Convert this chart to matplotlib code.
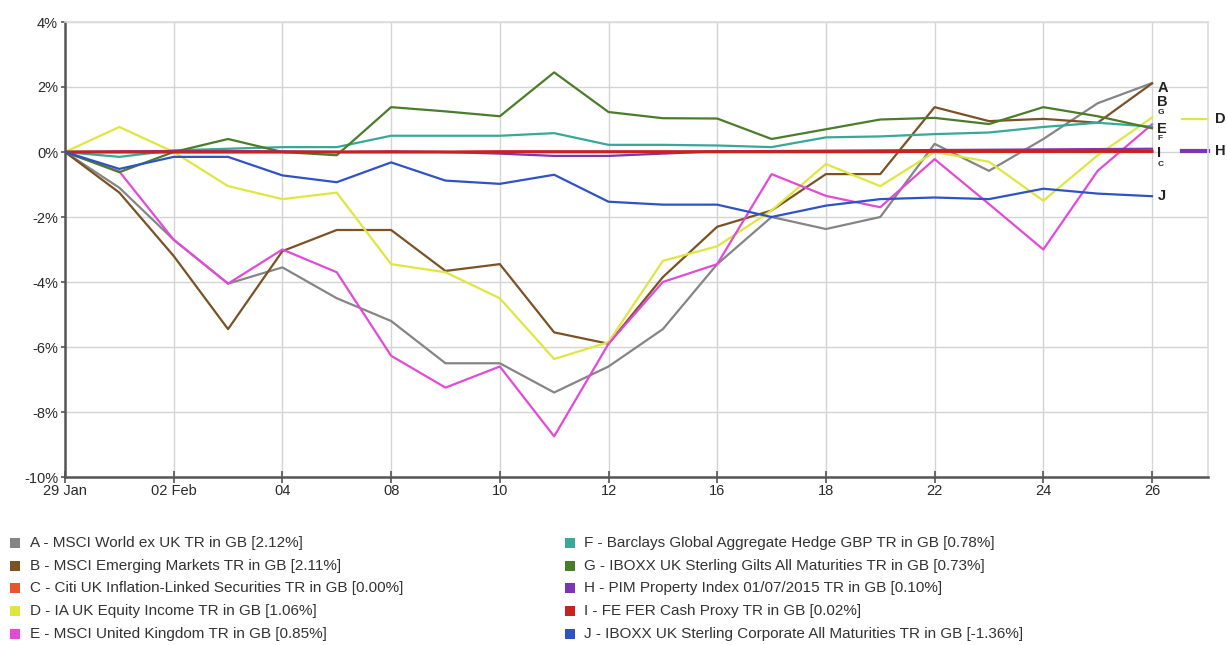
import matplotlib
matplotlib.use("Agg")
import matplotlib.pyplot as plt
from matplotlib.patches import Rectangle

plt.rcParams['font.family'] = ['Liberation Sans', 'DejaVu Sans']

# Trading days (index positions) and tick labels
dates = ["29 Jan", "01 Feb", "02 Feb", "03 Feb", "04 Feb", "05 Feb", "08 Feb", "09 Feb",
         "10 Feb", "11 Feb", "12 Feb", "15 Feb", "16 Feb", "17 Feb", "18 Feb", "19 Feb",
         "22 Feb", "23 Feb", "24 Feb", "25 Feb", "26 Feb"]
tick_labels = ["29 Jan", "02 Feb", "04", "08", "10", "12", "16", "18", "22", "24", "26"]
tick_idx = [0, 2, 4, 6, 8, 10, 12, 14, 16, 18, 20]

A = [0, -1.1, -2.7, -4.05, -3.55, -4.5, -5.2, -6.5, -6.5, -7.4, -6.6, -5.45, -3.45, -2.0, -2.37, -2.0, 0.25, -0.58, 0.4, 1.5, 2.12]
B = [0, -1.25, -3.2, -5.45, -3.05, -2.4, -2.4, -3.66, -3.45, -5.55, -5.9, -3.85, -2.3, -1.8, -0.68, -0.68, 1.38, 0.95, 1.02, 0.9, 2.11]
C = [0] * 21
D = [0, 0.77, 0.0, -1.05, -1.45, -1.25, -3.45, -3.7, -4.5, -6.37, -5.85, -3.35, -2.9, -1.8, -0.37, -1.05, 0.0, -0.3, -1.5, -0.1, 1.06]
E = [0, -0.6, -2.7, -4.05, -3.0, -3.7, -6.27, -7.25, -6.6, -8.75, -5.9, -4.0, -3.45, -0.68, -1.35, -1.7, -0.22, -1.6, -3.0, -0.58, 0.85]
F = [0, -0.15, 0.05, 0.1, 0.15, 0.15, 0.5, 0.5, 0.5, 0.58, 0.22, 0.22, 0.2, 0.15, 0.45, 0.48, 0.55, 0.6, 0.77, 0.9, 0.78]
G = [0, -0.62, 0.0, 0.4, 0.0, -0.1, 1.38, 1.25, 1.1, 2.45, 1.23, 1.04, 1.03, 0.4, 0.7, 1.0, 1.05, 0.86, 1.38, 1.1, 0.73]
H = [0, 0.02, 0.03, 0.03, 0.02, 0.0, 0.02, 0.0, -0.05, -0.12, -0.12, -0.05, 0.02, 0.03, 0.04, 0.05, 0.06, 0.07, 0.08, 0.09, 0.10]
I = [0, 0.0, 0.0, 0.0, 0.0, 0.0, 0.0, 0.0, 0.01, 0.01, 0.01, 0.01, 0.01, 0.01, 0.01, 0.01, 0.02, 0.02, 0.02, 0.02, 0.02]
J = [0, -0.52, -0.15, -0.15, -0.72, -0.93, -0.32, -0.88, -0.98, -0.7, -1.53, -1.62, -1.62, -2.0, -1.65, -1.45, -1.4, -1.45, -1.13, -1.28, -1.36]

series = [A, B, C, D, E, F, G, H, I, J]
letters = ["A", "B", "C", "D", "E", "F", "G", "H", "I", "J"]
names = [
    "A - MSCI World ex UK TR in GB [2.12%]",
    "B - MSCI Emerging Markets TR in GB [2.11%]",
    "C - Citi UK Inflation-Linked Securities TR in GB [0.00%]",
    "D - IA UK Equity Income TR in GB [1.06%]",
    "E - MSCI United Kingdom TR in GB [0.85%]",
    "F - Barclays Global Aggregate Hedge GBP TR in GB [0.78%]",
    "G - IBOXX UK Sterling Gilts All Maturities TR in GB [0.73%]",
    "H - PIM Property Index 01/07/2015 TR in GB [0.10%]",
    "I - FE FER Cash Proxy TR in GB [0.02%]",
    "J - IBOXX UK Sterling Corporate All Maturities TR in GB [-1.36%]",
]
colors = ["#858585", "#7a5224", "#e8542c", "#dfe640", "#e24ad8",
          "#38a898", "#4a7d2a", "#7b36b8", "#c8221e", "#2f52c4"]

W, Hh = 1227, 645
fig = plt.figure(figsize=(W / 100, Hh / 100), dpi=100)
ax = fig.add_axes([65 / W, 1 - 477 / Hh, (1208 - 65) / W, (477 - 22) / Hh])

x = list(range(len(dates)))
for s, c in zip(series, colors):
    lw = 2.2 if c == "#c8221e" else 1.6
    ax.plot(x, s, color=c, lw=lw)

ax.set_xlim(0, 21.03)
ax.set_ylim(-10, 4)
ax.set_yticks(range(-10, 5, 2))
ax.set_yticklabels([f"{v}%" for v in range(-10, 5, 2)])
ax.set_xticks(tick_idx)
ax.set_xticklabels(tick_labels)
ax.grid(True, color="#d4d4d4", lw=1)
ax.set_axisbelow(True)
for sp in ("top", "right"):
    ax.spines[sp].set_color("#dddddd")
    ax.spines[sp].set_linewidth(1.2)
for sp in ("left", "bottom"):
    ax.spines[sp].set_color("#555555")
    ax.spines[sp].set_linewidth(1.8)
ax.tick_params(axis="both", colors="#555555", labelcolor="#2a2a2a", labelsize=10.5,
               length=4, width=1.2)
ax.tick_params(axis="x", direction="inout", length=8, pad=1)
ax.tick_params(axis="y", direction="out", length=3, pad=2)

# End-of-line labels (letters), stacked as in the original
lab_letters = ["A", "B", "G", "E", "F", "I", "C", "J"]
lab_y = [1.98, 1.55, 1.22, 0.72, 0.42, -0.02, -0.38, -1.36]
lab_size = [10.5, 10.5, 6, 10.5, 6, 10.5, 6, 10.5]
for t, yv, fs in zip(lab_letters, lab_y, lab_size):
    ax.text(20.1, yv, t, fontsize=fs, fontweight="bold", color="#222222",
            va="center", ha="left", clip_on=False)

# Off-chart labels D and H with line stubs
for t, yv, c in [("D", 1.02, colors[3]), ("H", 0.02, colors[7])]:
    ax.plot([20.55, 21.03], [yv, yv], color=c, lw=1.6 if t == "D" else 3,
            clip_on=False)
    ax.text(21.15, yv, t, fontsize=10.5, fontweight="bold", color="#222222",
            va="center", ha="left", clip_on=False)

# Legend in two columns
rows_y = [543, 566, 588, 611, 634]
for i, (nm, c) in enumerate(zip(names, colors)):
    col = i // 5
    r = i % 5
    sx = 10 if col == 0 else 565
    tx = 30 if col == 0 else 584
    yy = 1 - rows_y[r] / Hh
    fig.patches.append(Rectangle((sx / W, yy - 5 / Hh), 10 / W, 10 / Hh,
                                 transform=fig.transFigure, facecolor=c, edgecolor="none"))
    fig.text(tx / W, yy, nm, fontsize=11, color="#333333", va="center", ha="left")

fig.savefig("out.png", dpi=100)
